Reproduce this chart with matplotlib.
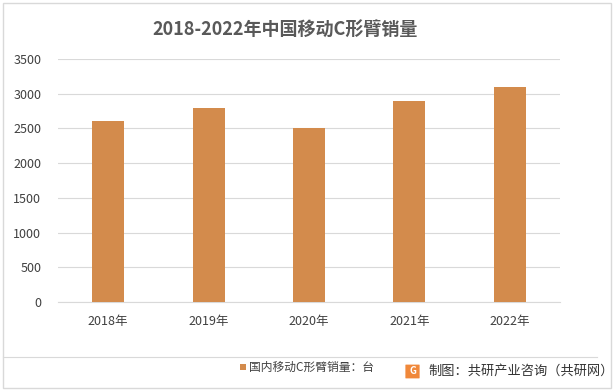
import matplotlib
matplotlib.use("Agg")
import matplotlib.pyplot as plt
from matplotlib.patches import Rectangle, FancyBboxPatch

plt.rcParams['font.family'] = ['Noto Sans CJK SC', 'DejaVu Sans']

categories = ["2018年", "2019年", "2020年", "2021年", "2022年"]
values = [2600, 2800, 2500, 2900, 3100]
yticks = [0, 500, 1000, 1500, 2000, 2500, 3000, 3500]
title = "2018-2022年中国移动C形臂销量"
legend_label = "国内移动C形臂销量：台"
source = "制图：共研产业咨询（共研网）"

W, H = 614, 391
fig = plt.figure(figsize=(W / 100, H / 100), dpi=100)
fig.patch.set_facecolor("white")

# outer border
fig.add_artist(Rectangle((3 / W, 3 / H), (W - 6) / W, (H - 6) / H, transform=fig.transFigure,
                         fill=False, edgecolor="#d9d9d9", linewidth=1))

ax = fig.add_axes([58 / W, 1 - 302 / H, (560 - 58) / W, (302 - 59) / H])
x = list(range(len(categories)))
ax.bar(x, values, width=0.32, color="#D38B4C", zorder=3)
ax.set_xlim(-0.5, len(categories) - 0.5)
ax.set_ylim(0, 3500)
ax.set_yticks(yticks)
ax.set_yticklabels([str(v) for v in yticks], fontsize=9, color="#404040")
ax.set_xticks(x)
ax.set_xticklabels(categories, fontsize=9, color="#404040")
ax.tick_params(axis="both", length=0)
ax.tick_params(axis="y", pad=12)
ax.tick_params(axis="x", pad=9)
ax.grid(axis="y", color="#d9d9d9", linewidth=0.8, zorder=0)
for s in ["top", "right", "left"]:
    ax.spines[s].set_visible(False)
ax.spines["bottom"].set_color("#d9d9d9")

fig.text(285 / W, 1 - 30 / H, title, ha="center", va="center", fontsize=13,
         fontweight="bold", color="#595959")

# separator line
fig.add_artist(plt.Line2D([3 / W, 597 / W], [1 - 357 / H, 1 - 357 / H], transform=fig.transFigure,
                          color="#d9d9d9", linewidth=0.8))

# legend
fig.add_artist(Rectangle((240 / W, 1 - 370 / H), 6 / W, 6 / H, transform=fig.transFigure,
                         facecolor="#D38B4C", edgecolor="none"))
fig.text(249 / W, 1 - 367 / H, legend_label, ha="left", va="center", fontsize=8.5, color="#404040")

# source logo + text
fig.add_artist(FancyBboxPatch((406 / W, 1 - 378 / H), 13 / W, 13 / H, transform=fig.transFigure,
                              boxstyle="round,pad=0.001", facecolor="#F0883A", edgecolor="none"))
fig.text(412.5 / W, 1 - 371.5 / H, "G", ha="center", va="center", fontsize=7, color="white", fontweight="bold")
fig.text(428 / W, 1 - 371 / H, source, ha="left", va="center", fontsize=9.5, color="#333333")

fig.savefig("out.png", dpi=100)
